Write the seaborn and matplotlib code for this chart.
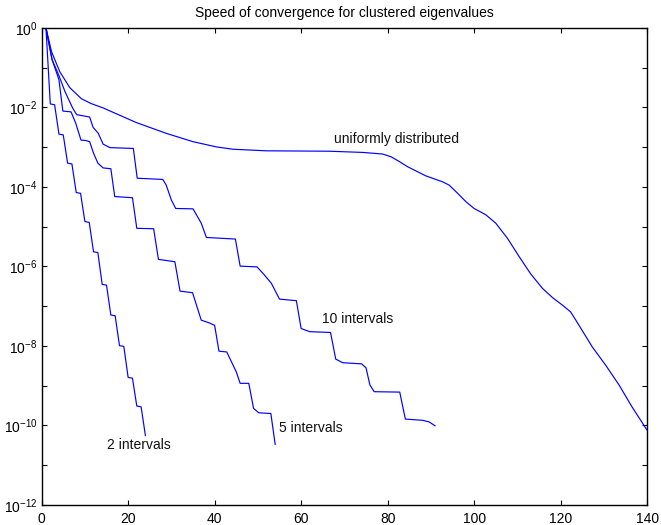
import matplotlib
matplotlib.use("Agg")
import matplotlib.pyplot as plt
import pandas as pd
import seaborn as sns

# ---------------- data ----------------
title = "Speed of convergence for clustered eigenvalues"

series_names = ["uniformly distributed", "10 intervals", "5 intervals", "2 intervals"]

uniform_x = [1, 2.3, 4.2, 6.5, 9.2, 11.4, 14.2, 16.9, 21.9, 28.8, 35, 40.4, 44.2, 51.9,
             66.5, 74.2, 78.8, 80.8, 82.7, 84.6, 88.8, 92.7, 94.2, 96.2, 98.1, 100,
             102.7, 105, 107.7, 110.4, 113.1, 115.8, 118.1, 120.4, 122.3, 124.2,
             127.3, 130.4, 133.5, 136.5, 140]
uniform_y = [1.0, 2.51e-1, 7.94e-2, 3.16e-2, 1.66e-2, 1.26e-2, 9.77e-3, 7.24e-3, 4.17e-3,
             2.24e-3, 1.38e-3, 1.02e-3, 8.91e-4, 8.13e-4, 7.94e-4, 7.41e-4, 6.76e-4,
             5.75e-4, 4.37e-4, 3.24e-4, 1.91e-4, 1.35e-4, 1.12e-4, 6.92e-5, 4.27e-5,
             2.88e-5, 2.00e-5, 1.23e-5, 5.13e-6, 1.78e-6, 6.46e-7, 2.82e-7, 1.66e-7,
             1.07e-7, 7.24e-8, 3.39e-8, 9.55e-9, 3.31e-9, 1.05e-9, 2.95e-10, 7.59e-11]

ten_x = [1, 2.4, 4.0, 5.4, 7.2, 8.1, 11.1, 11.9, 13.1, 14.2, 15.8, 21.2, 22.1, 28.0, 28.8,
         30.0, 31.0, 35.0, 36.9, 38.1, 44.8, 45.9, 49.8, 51.4, 53.1, 55.0, 58.9, 60.0,
         62.0, 66.8, 68.0, 69.6, 74.0, 75.0, 75.9, 76.9, 82.8, 84.1, 88.1, 89.6, 91.0]
ten_y = [1.0, 1.62e-1, 6.31e-2, 2.51e-2, 9.55e-3, 6.61e-3, 5.75e-3, 3.16e-3, 2.24e-3,
         1.20e-3, 9.77e-4, 9.33e-4, 1.66e-4, 1.55e-4, 1.12e-4, 4.68e-5, 2.88e-5, 2.82e-5,
         1.23e-5, 5.37e-6, 4.90e-6, 1.02e-6, 9.77e-7, 6.31e-7, 3.80e-7, 1.51e-7, 1.38e-7,
         2.75e-8, 2.29e-8, 2.19e-8, 4.68e-9, 3.80e-9, 3.55e-9, 2.82e-9, 1.05e-9, 7.08e-10,
         6.92e-10, 1.45e-10, 1.35e-10, 1.23e-10, 9.77e-11]

five_x = [1, 2.4, 4.0, 4.9, 6.8, 7.9, 9.1, 10.2, 11.1, 12.0, 13.0, 14.2, 16.0, 16.9, 21.0,
          22.0, 25.9, 27.0, 30.8, 32.0, 34.9, 36.9, 38.8, 40.0, 41.0, 42.8, 45.0, 45.9,
          47.9, 49.0, 50.2, 53.0, 54.0]
five_y = [1.0, 1.62e-1, 5.01e-2, 8.13e-3, 7.76e-3, 3.98e-3, 1.51e-3, 1.48e-3, 1.38e-3,
          7.08e-4, 3.98e-4, 3.02e-4, 2.88e-4, 5.75e-5, 5.37e-5, 9.12e-6, 8.91e-6, 1.51e-6,
          1.32e-6, 2.40e-7, 2.19e-7, 4.47e-8, 3.80e-8, 3.31e-8, 7.41e-9, 7.08e-9, 2.24e-9,
          1.15e-9, 1.15e-9, 2.69e-10, 2.09e-10, 2.00e-10, 3.31e-11]

two_x = list(range(1, 25))
two_y = [1.0, 1.23e-2, 1.17e-2, 2.14e-3, 2.04e-3, 3.98e-4, 3.80e-4, 7.24e-5, 6.92e-5,
         1.35e-5, 1.29e-5, 2.34e-6, 2.24e-6, 3.55e-7, 3.39e-7, 6.03e-8, 5.75e-8, 1.02e-8,
         9.77e-9, 1.62e-9, 1.55e-9, 3.09e-10, 2.95e-10, 5.50e-11]

xtick_values = [0, 20, 40, 60, 80, 100, 120, 140]
xtick_labels = ["0", "20", "40", "60", "80", "100", "120", "140"]
ytick_values = [1e0, 1e-1, 1e-2, 1e-3, 1e-4, 1e-5, 1e-6, 1e-7, 1e-8, 1e-9, 1e-10, 1e-11, 1e-12]
ytick_labels = ["$10^{0}$", "", "$10^{-2}$", "", "$10^{-4}$", "", "$10^{-6}$", "",
                "$10^{-8}$", "", "$10^{-10}$", "", "$10^{-12}$"]

# ---------------- styling ----------------
sns.set_theme(style="ticks")
plt.rcParams["font.family"] = ["Liberation Sans", "DejaVu Sans"]
plt.rcParams["mathtext.fontset"] = "custom"
plt.rcParams["mathtext.rm"] = "Liberation Sans"
plt.rcParams["mathtext.it"] = "Liberation Sans:italic"
plt.rcParams["mathtext.bf"] = "Liberation Sans:bold"
plt.rcParams["mathtext.default"] = "regular"

line_color = "#0000ff"

fig = plt.figure(figsize=(6.61, 5.25), dpi=100)
fig.patch.set_facecolor("white")
ax = fig.add_axes([0.063, 0.0381, 0.916, 0.9086])
ax.set_facecolor("white")

frames = [
    pd.DataFrame({"iteration": uniform_x, "residual": uniform_y, "series": series_names[0]}),
    pd.DataFrame({"iteration": ten_x, "residual": ten_y, "series": series_names[1]}),
    pd.DataFrame({"iteration": five_x, "residual": five_y, "series": series_names[2]}),
    pd.DataFrame({"iteration": two_x, "residual": two_y, "series": series_names[3]}),
]
df = pd.concat(frames, ignore_index=True)

sns.lineplot(data=df, x="iteration", y="residual", hue="series", units="series",
             estimator=None, sort=False, palette=[line_color] * 4, legend=False,
             linewidth=0.85, ax=ax)

ax.set_yscale("log")
ax.set_xlim(0, 140)
ax.set_ylim(1e-12, 1e0)
ax.set_xticks(xtick_values)
ax.set_xticklabels(xtick_labels)
ax.set_yticks(ytick_values)
ax.set_yticklabels(ytick_labels)
ax.yaxis.set_minor_locator(matplotlib.ticker.NullLocator())
ax.xaxis.set_minor_locator(matplotlib.ticker.NullLocator())
ax.set_xlabel("")
ax.set_ylabel("")

for side in ["left", "right", "top", "bottom"]:
    ax.spines[side].set_visible(True)
    ax.spines[side].set_linewidth(1.0)
    ax.spines[side].set_color("black")

ax.tick_params(axis="both", which="both", direction="in", top=True, right=True,
               length=3.5, width=0.8, labelsize=10, colors="black")
ax.tick_params(axis="x", pad=5)
ax.tick_params(axis="y", pad=3)

ax.set_title(title, fontsize=10, pad=8, color="black")

# curve labels
ax.text(67.5, 10 ** -2.8, series_names[0], fontsize=10, ha="left", va="center", color="#111111")
ax.text(64.8, 10 ** -7.32, series_names[1], fontsize=10, ha="left", va="center", color="#111111")
ax.text(54.8, 10 ** -10.07, series_names[2], fontsize=10, ha="left", va="center", color="#111111")
ax.text(15.0, 10 ** -10.49, series_names[3], fontsize=10, ha="left", va="center", color="#111111")

fig.savefig("out.png", dpi=100)
